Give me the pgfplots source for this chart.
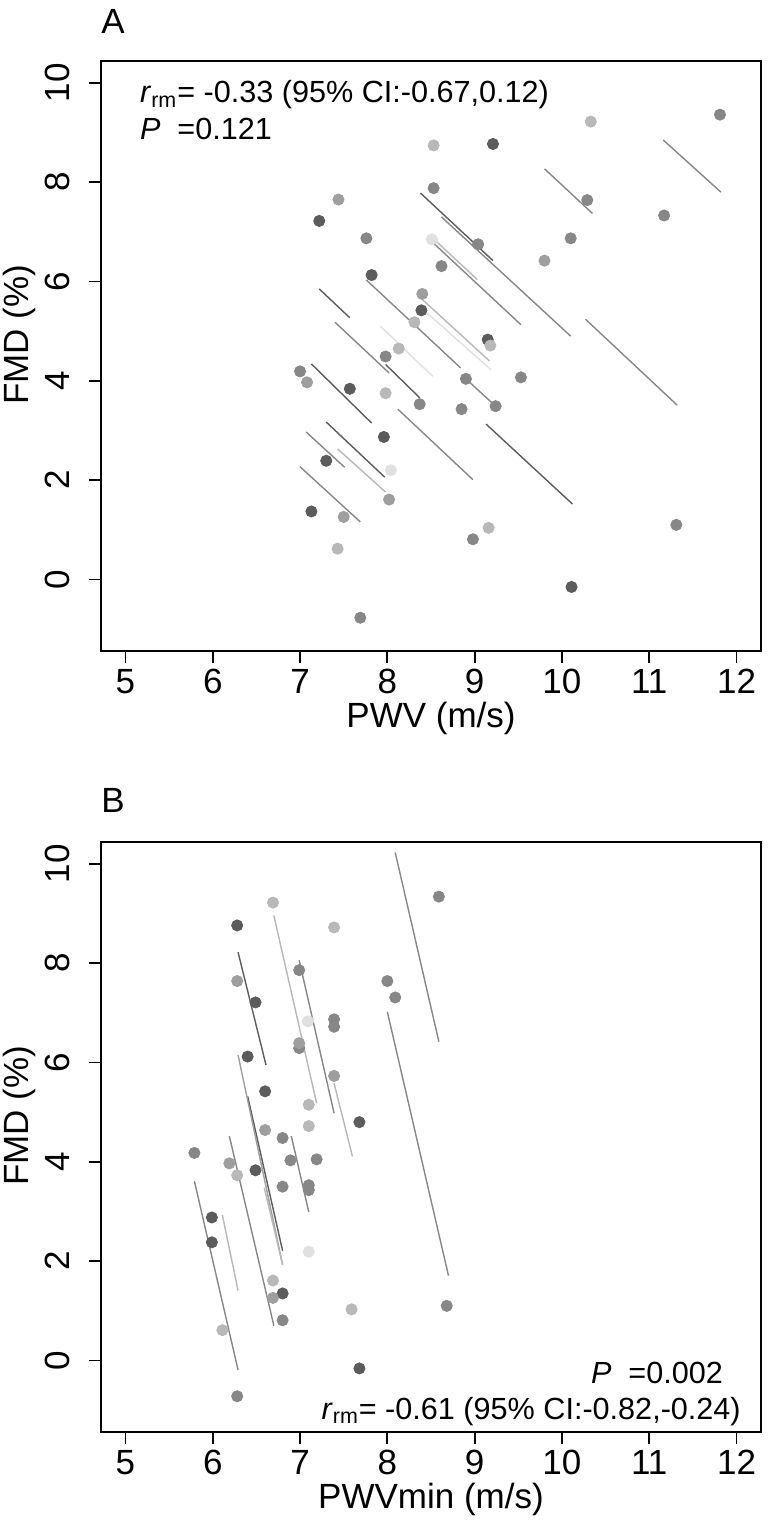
\documentclass[border=0pt]{standalone}
\usepackage{fontspec}
\setmainfont{Liberation Sans}
\usepackage{pgfplots}
\pgfplotsset{compat=1.18}
\definecolor{gD}{gray}{0.36}
\definecolor{gM}{gray}{0.53}
\definecolor{gML}{gray}{0.62}
\definecolor{gL}{gray}{0.72}
\definecolor{gVL}{gray}{0.88}
\pgfplotsset{
 panel/.style={
  scale only axis, width=330pt, height=295pt,
  xmin=4.72, xmax=12.28, ymin=-1.44, ymax=10.44,
  xtick={5,...,12}, ytick={0,2,...,10},
  xtick pos=bottom, ytick pos=left,
  tick align=outside, major tick length=6pt,
  axis line style={line width=0.9pt}, tick style={line width=0.9pt, black},
  /pgf/number format/assume math mode=true,
  tick label style={font=\fontsize{17.5}{20}\selectfont},
  xticklabel style={anchor=north, inner sep=0pt, yshift=-3pt},
  yticklabel style={xshift=-9.5pt, rotate=90, anchor=south, inner sep=0pt},
  label style={font=\fontsize{17.5}{20}\selectfont},
  x label style={at={(axis description cs:0.5,-0.114)}, anchor=center},
  y label style={at={(axis description cs:-0.124,0.536)}, anchor=center},
 },
 ln/.style={no marks, line width=0.7pt, color=#1},
 pt/.style={only marks, mark=*, mark size=2.8pt, color=#1, mark options={draw=#1, fill=#1}},
}
\begin{document}
\begin{tikzpicture}
\path[use as bounding box] (0,0) rectangle (384.5pt,-769pt);
\begin{axis}[panel, at={(50.5pt,-325.5pt)}, anchor=south west, xlabel={PWV (m/s)}, ylabel={FMD (\%)}]
\addplot[ln=gD] coordinates {(8.38,7.78) (9.21,6.42)};
\addplot[ln=gD] coordinates {(7.22,5.85) (7.57,5.27)};
\addplot[ln=gL] coordinates {(8.51,6.89) (9.03,6.04)};
\addplot[ln=gM] coordinates {(8.53,6.77) (9.53,5.13)};
\addplot[ln=gM] coordinates {(8.62,7.30) (10.10,4.90)};
\addplot[ln=gM] coordinates {(9.80,8.27) (10.35,7.37)};
\addplot[ln=gM] coordinates {(11.16,8.85) (11.82,7.80)};
\addplot[ln=gM] coordinates {(10.27,5.24) (11.32,3.51)};
\addplot[ln=gD] coordinates {(9.13,3.13) (10.12,1.52)};
\addplot[ln=gM] coordinates {(8.12,3.43) (8.98,2.01)};
\addplot[ln=gD] coordinates {(7.98,4.33) (8.37,3.66)};
\addplot[ln=gM] coordinates {(8.90,4.04) (9.24,3.49)};
\addplot[ln=gM] coordinates {(7.76,6.03) (8.84,4.26)};
\addplot[ln=gL] coordinates {(8.35,5.72) (9.17,4.40)};
\addplot[ln=gVL] coordinates {(8.40,5.45) (9.19,4.22)};
\addplot[ln=gVL] coordinates {(7.92,5.10) (8.52,4.09)};
\addplot[ln=gD] coordinates {(7.13,4.34) (7.82,3.15)};
\addplot[ln=gD] coordinates {(7.30,3.17) (7.97,2.06)};
\addplot[ln=gM] coordinates {(7.07,2.97) (7.51,2.26)};
\addplot[ln=gL] coordinates {(7.43,2.63) (7.98,1.76)};
\addplot[ln=gM] coordinates {(7.00,2.27) (7.69,1.16)};
\addplot[ln=gM] coordinates {(7.40,5.18) (8.02,4.16)};
\addplot[pt=gD] coordinates {(9.21,8.77) (7.22,7.22) (7.82,6.13) (8.39,5.42) (7.57,3.84) (7.96,2.87) (7.30,2.39) (7.13,1.37) (10.11,-0.15) (9.15,4.83)};
\addplot[pt=gM] coordinates {(11.81,9.36) (10.29,7.64) (11.17,7.33) (10.10,6.87) (9.04,6.75) (8.62,6.31) (8.53,7.88) (7.76,6.87) (7.98,4.49) (7.00,4.19) (8.37,3.53) (7.69,-0.77) (8.90,4.04) (9.53,4.07) (9.24,3.49) (8.85,3.43) (8.98,0.81) (11.31,1.10)};
\addplot[pt=gML] coordinates {(7.44,7.65) (9.80,6.42) (8.40,5.75) (7.08,3.97) (7.50,1.26) (8.02,1.61)};
\addplot[pt=gL] coordinates {(10.33,9.22) (9.18,4.71) (8.53,8.74) (8.31,5.18) (8.13,4.65) (7.98,3.75) (7.43,0.62) (9.16,1.04)};
\addplot[pt=gVL] coordinates {(8.51,6.85) (8.04,2.20)};
\node[anchor=base west, font=\fontsize{15.3}{17}\selectfont] at (rel axis cs:0.0485,0.929) {\textit{r}\textsubscript{rm}= -0.33 (95\% CI:-0.67,0.12)};
\node[anchor=base west, font=\fontsize{15.3}{17}\selectfont] at (rel axis cs:0.0485,0.867) {\textit{P}\ \ =0.121};
\end{axis}
\begin{axis}[panel, at={(50.5pt,-716pt)}, anchor=south west, xlabel={PWVmin (m/s)}, ylabel={FMD (\%)}]
\addplot[ln=gM] coordinates {(8.09,10.23) (8.59,6.42)};
\addplot[ln=gM] coordinates {(8.00,7.02) (8.70,1.71)};
\addplot[ln=gD] coordinates {(6.29,8.22) (6.61,5.95)};
\addplot[ln=gL] coordinates {(6.70,8.96) (7.19,5.18)};
\addplot[ln=gM] coordinates {(6.99,8.06) (7.39,4.98)};
\addplot[ln=gD] coordinates {(6.40,5.32) (6.80,2.21)};
\addplot[ln=gML] coordinates {(6.29,6.15) (6.80,1.93)};
\addplot[ln=gL] coordinates {(7.39,5.58) (7.60,4.11)};
\addplot[ln=gM] coordinates {(6.19,4.52) (6.70,0.70)};
\addplot[ln=gM] coordinates {(6.90,4.52) (7.10,2.99)};
\addplot[ln=gM] coordinates {(5.79,3.61) (6.29,-0.19)};
\addplot[ln=gL] coordinates {(6.11,2.93) (6.29,1.41)};
\addplot[ln=gL] coordinates {(6.59,3.48) (6.80,1.93)};
\addplot[pt=gD] coordinates {(6.28,8.76) (6.49,7.21) (6.40,6.12) (6.60,5.42) (7.68,4.80) (6.49,3.83) (5.99,2.88) (6.80,1.35) (7.68,-0.16) (5.99,2.38)};
\addplot[pt=gM] coordinates {(8.59,9.34) (6.99,7.86) (8.00,7.64) (8.09,7.31) (7.39,6.87) (7.39,6.72) (6.99,6.29) (6.80,4.48) (5.79,4.18) (6.89,4.03) (7.19,4.05) (6.80,3.50) (7.10,3.53) (7.10,3.43) (6.80,0.81) (8.68,1.10) (6.28,-0.72)};
\addplot[pt=gML] coordinates {(6.28,7.64) (7.39,5.73) (6.60,4.64) (6.19,3.97) (6.69,1.26) (6.99,6.39)};
\addplot[pt=gL] coordinates {(6.69,9.22) (7.39,8.72) (7.10,5.15) (7.10,4.72) (6.28,3.73) (6.69,1.61) (6.11,0.61) (7.59,1.03)};
\addplot[pt=gVL] coordinates {(7.09,6.83) (7.10,2.19)};
\node[anchor=base east, font=\fontsize{15.3}{17}\selectfont] at (rel axis cs:0.953,0.0825) {\textit{P}\ \ =0.002};
\node[anchor=base east, font=\fontsize{15.3}{17}\selectfont] at (rel axis cs:0.980,0.022) {\textit{r}\textsubscript{rm}= -0.61 (95\% CI:-0.82,-0.24)};
\end{axis}
\node[font=\fontsize{17.5}{20}\selectfont] at (56.5pt,-10.5pt) {A};
\node[font=\fontsize{17.5}{20}\selectfont] at (56.5pt,-400pt) {B};
\end{tikzpicture}
\end{document}
